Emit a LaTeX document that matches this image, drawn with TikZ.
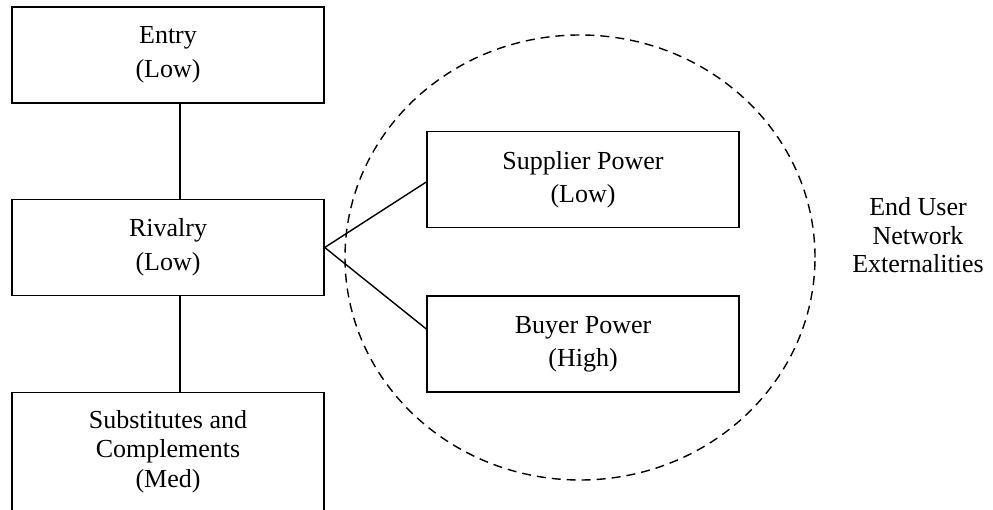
\documentclass[tikz,border=0pt]{standalone}
\usepackage{fontspec}
\setmainfont{Liberation Serif}
\usetikzlibrary{shapes.geometric}

\tikzset{
  forcebox/.style={draw, line width=1.4pt, minimum width=312pt, minimum height=96pt,
    inner sep=0pt, align=center, font=\fontsize{26}{33}\selectfont},
  plaintext/.style={inner sep=0pt, align=center},
  link/.style={line width=1.4pt},
  zone/.style={draw, ellipse, line width=1.4pt, dash pattern=on 9pt off 6pt,
    minimum width=470pt, minimum height=445pt, inner sep=0pt}
}

\begin{document}
\begin{tikzpicture}[x=1pt,y=-1pt]
  \useasboundingbox (0,0) rectangle (993,510);
  \clip (0,0) rectangle (993,510);

  % left column of forces
  \node[forcebox, font=\fontsize{26}{34}\selectfont] (entry) at (168,55) {Entry\\(Low)};
  \node[forcebox, font=\fontsize{26}{34}\selectfont] (rivalry) at (168,247.5) {Rivalry\\(Low)};
  \node[forcebox, minimum height=160pt, anchor=north] (subsbox) at (168,392) {};
  \node[plaintext, font=\fontsize{26}{29.5}\selectfont] (subs) at (168,451.5)
    {Substitutes and\\Complements\\(Med)};

  % end-user zone
  \node[zone] (users) at (580,257.5) {};
  \node[forcebox] (supplier) at (583,179.5) {Supplier Power\\(Low)};
  \node[forcebox] (buyer) at (583,344) {\raisebox{3pt}{Buyer Power}\\\raisebox{3pt}{(High)}};
  \node[plaintext, font=\fontsize{26}{28.5}\selectfont] (extern) at (918,235.5)
    {End User\\Network\\Externalities};

  % connectors
  \coordinate (spine) at (180,0);
  \draw[link] (entry.south -| spine) -- (rivalry.north -| spine);
  \draw[link] (rivalry.south -| spine) -- (subsbox.north -| spine);
  \draw[link] ([yshift=-2.5pt]supplier.west) -- (rivalry.east) -- ([yshift=15pt]buyer.west);
\end{tikzpicture}
\end{document}
